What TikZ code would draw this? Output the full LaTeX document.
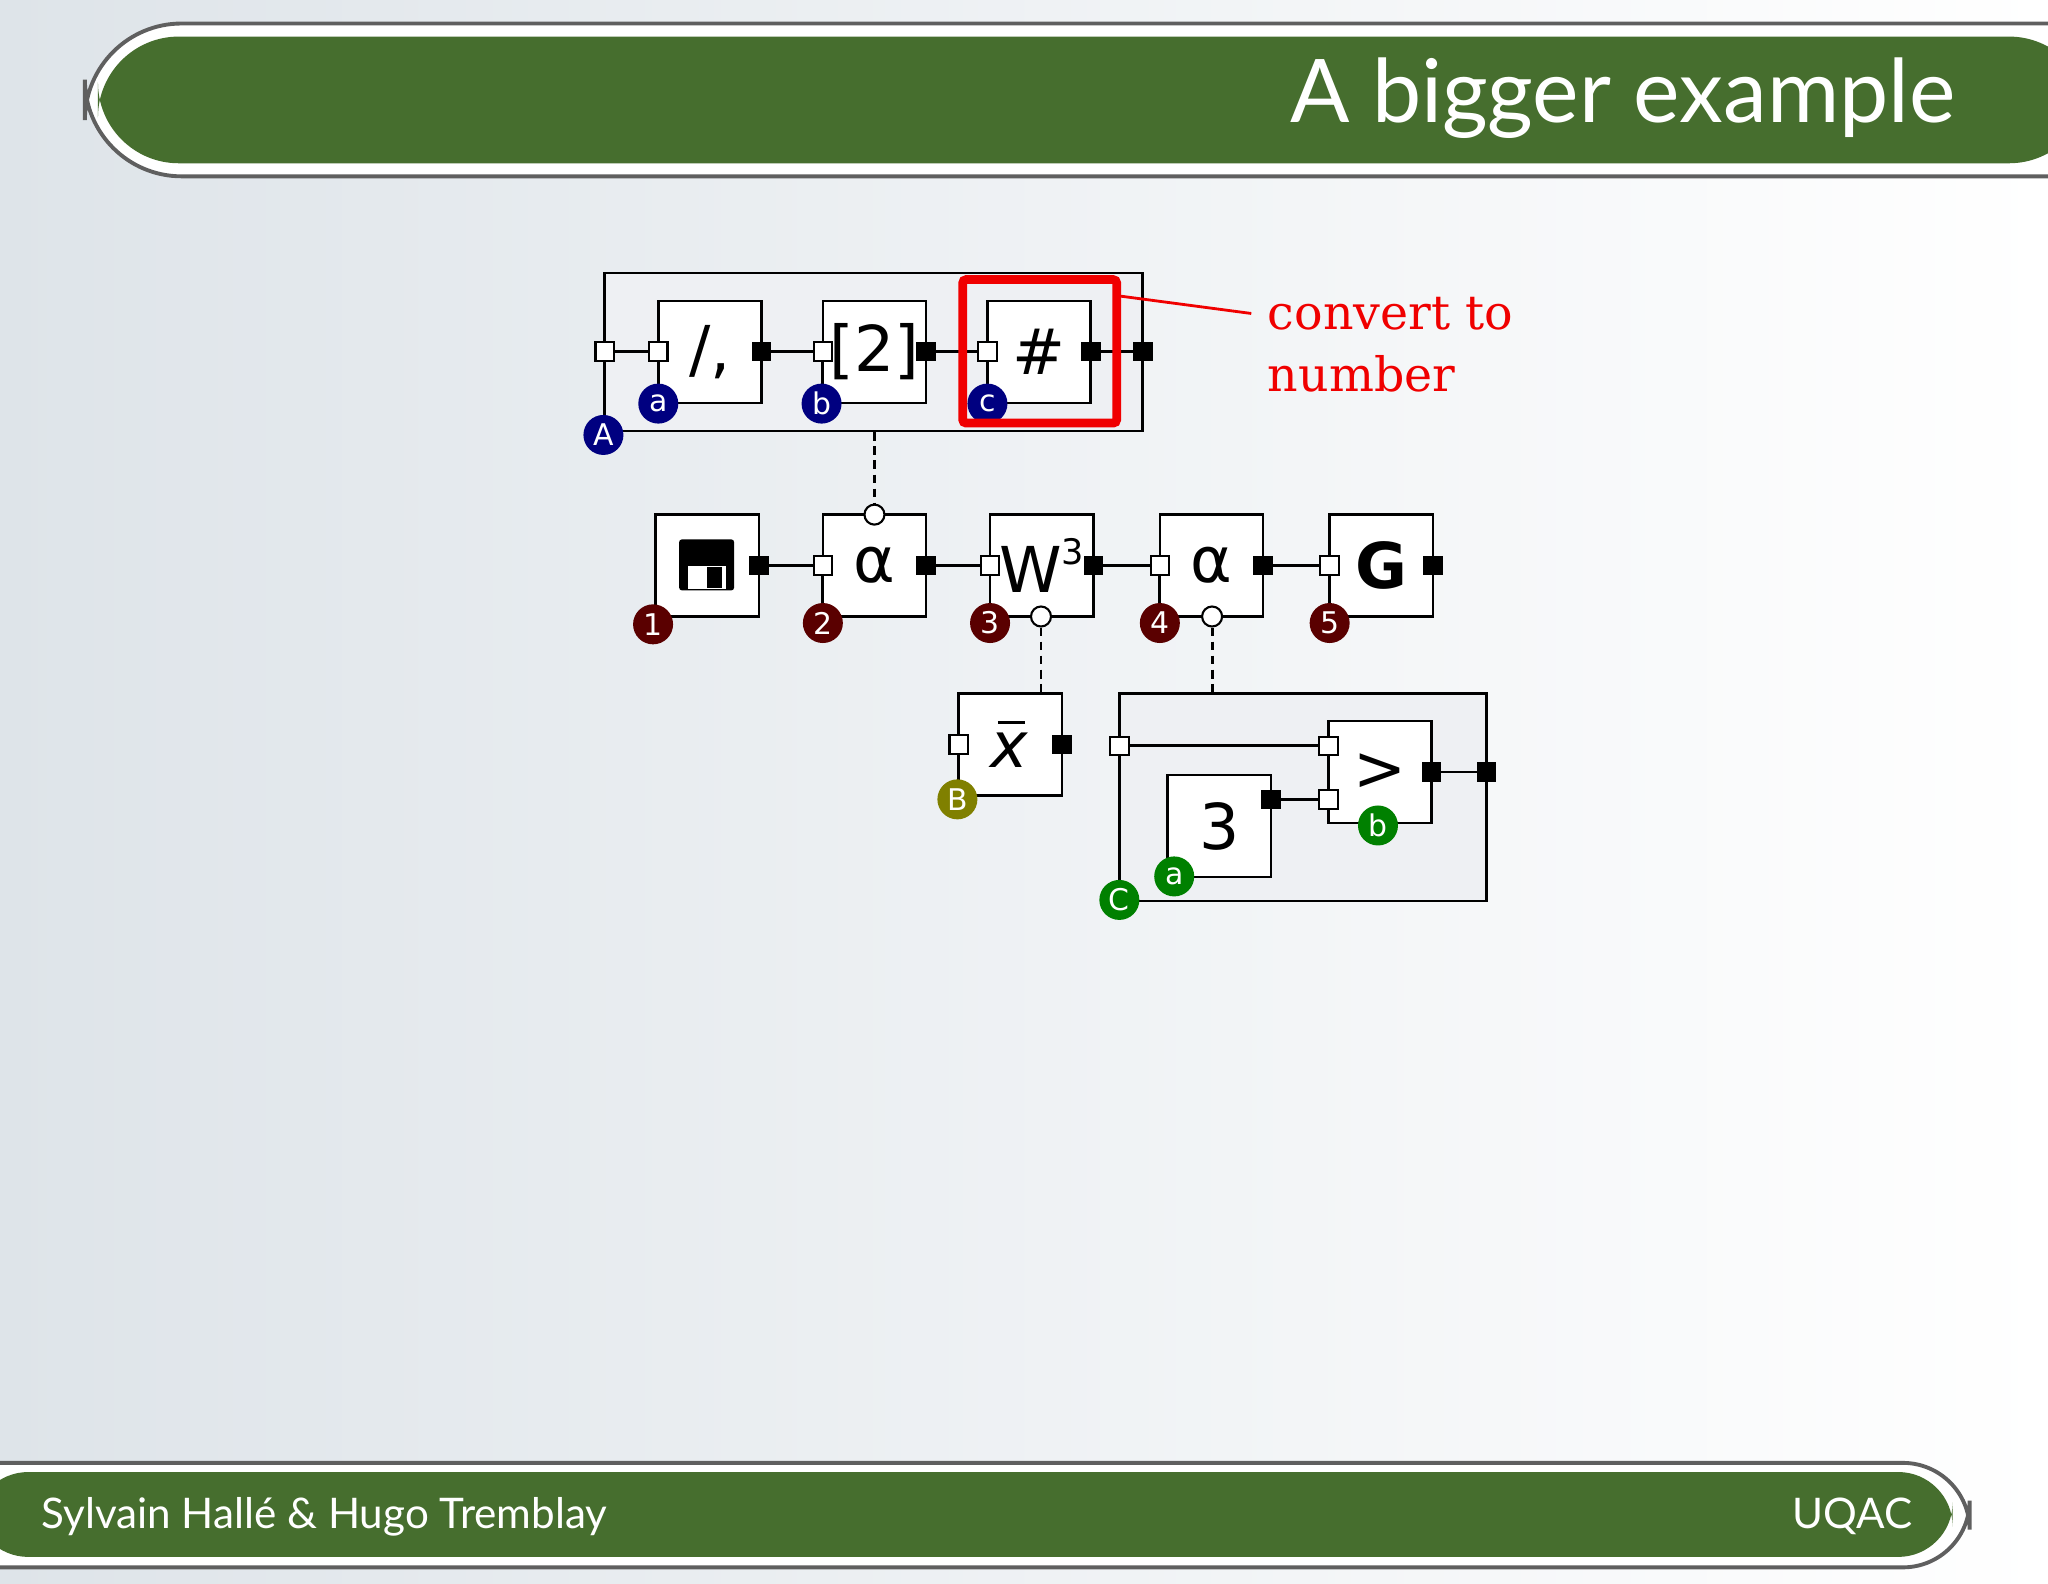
\documentclass[tikz,border=0pt]{standalone}
\usepackage{fontspec}
\setmainfont{DejaVu Sans}
\newfontfamily\serifred{DejaVu Serif}
\newfontfamily\titlefont{Lato}
\definecolor{hgreen}{RGB}{70,110,46}
\definecolor{lblue}{RGB}{0,0,128}
\definecolor{lmaroon}{RGB}{90,0,0}
\definecolor{lolive}{RGB}{128,128,0}
\definecolor{lgreen}{RGB}{0,128,0}
\definecolor{outerfill}{RGB}{238,240,243}
\definecolor{hred}{RGB}{240,0,0}
\definecolor{hgray}{RGB}{95,95,95}
\definecolor{bgleft}{RGB}{222,228,233}
\tikzset{
  x=0.026122cm,y=-0.026122cm,
  proc/.style={draw=black,line width=1.5pt,fill=white,minimum width=2.064cm,minimum height=2.04cm,inner sep=0pt,font=\fontsize{36}{36}\selectfont},
  outer/.style={draw=black,line width=1.5pt,fill=outerfill,inner sep=0pt},
  inport/.style={draw=black,line width=1.2pt,fill=white,minimum size=0.37cm,inner sep=0pt},
  outport/.style={draw=black,fill=black,minimum size=0.37cm,inner sep=0pt},
  ctx/.style={circle,draw=black,line width=1.2pt,fill=white,minimum size=0.4cm,inner sep=0pt},
  lbl/.style={circle,minimum size=0.8cm,inner sep=0pt,text=white,font=\fontsize{17}{17}\selectfont},
  pipe/.style={line width=1.6pt},
  dpipe/.style={line width=1.6pt,dash pattern=on 5pt off 3pt},
}
\begin{document}
\begin{tikzpicture}
\useasboundingbox (0,0) rectangle (1568,1212);
\shade[left color=bgleft,right color=white] (0,0) rectangle (1568,1212);
% header
\draw[draw=hgray,line width=2.2pt,fill=white,rounded corners=55] (1600,18) -- (65,18) -- (65,135) -- (1600,135);
\fill[hgreen,rounded corners=46] (1600,28) -- (75,28) -- (75,125) -- (1600,125) -- cycle;
\node[anchor=east,text=white,font=\titlefont\fontsize{50}{50}\selectfont] (title) at (1502,75) {A bigger example};
% footer
\draw[draw=hgray,line width=2.2pt,fill=white,rounded corners=38] (-20,1120) -- (1508,1120) -- (1508,1200) -- (-20,1200);
\fill[hgreen,rounded corners=31] (-20,1127) -- (1495,1127) -- (1495,1192) -- (-20,1192) -- cycle;
\node[anchor=west,text=white,font=\titlefont\fontsize{24}{24}\selectfont] (authors) at (27,1161) {Sylvain Hallé \& Hugo Tremblay};
\node[anchor=east,text=white,font=\titlefont\fontsize{24}{24}\selectfont] (uqac) at (1469,1161) {UQAC};

% outer A
\node[outer,minimum width=10.76cm,minimum height=3.16cm] (A) at (669,269.5) {};
\node[proc] (p1) at (543.5,269.5) {/,};
\node[proc] (p2) at (669.5,269.5) {[2]};
\node[proc] (p3) at (795.5,269.5) {\#};
\node[inport] (Ain) at (463,269) {};
\node[outport] (Aout) at (875,269) {};
\node[inport] (p1i) at (504,269) {};
\node[outport] (p1o) at (583,269) {};
\node[inport] (p2i) at (630,269) {};
\node[outport] (p2o) at (709,269) {};
\node[inport] (p3i) at (756,269) {};
\node[outport] (p3o) at (835,269) {};
\draw[pipe] (Ain) -- (p1i); \draw[pipe] (p1o) -- (p2i); \draw[pipe] (p2o) -- (p3i); \draw[pipe] (p3o) -- (Aout);
\draw[pipe] (Ain) -- (463,333); \draw[pipe] (p1i) -- (504,309); \draw[pipe] (p2i) -- (630,309); \draw[pipe] (p3i) -- (756,309);
\node[lbl,fill=lblue] (lA) at (462,333) {A};
\node[lbl,fill=lblue] (la) at (504,309) {a};
\node[lbl,fill=lblue] (lb) at (629,309) {b};
\node[lbl,fill=lblue] (lc) at (756,309) {c};
% red highlight
\node[draw=hred,line width=5pt,rounded corners=2pt,minimum width=3.08cm,minimum height=2.87cm,inner sep=0pt] (red) at (796,269) {};
\coordinate (re) at (958,240);
\draw[hred,line width=1.6pt] ([yshift=-0.42cm]red.north east) -- (re);
\node[anchor=west,align=left,text=hred,font=\serifred\fontsize{27}{35}\selectfont] (conv) at (966,264) {convert to\\number};

% row 2
\node[proc] (s1) at (541.5,433) {};
\node[proc] (a1) at (669.5,433) {α};
\node[proc] (w) at (797.5,433) {W\raisebox{0.45em}{\fontsize{20}{20}\selectfont 3}};
\node[proc] (a2) at (927.5,433) {α};
\node[proc] (g) at (1057.5,433) {\bfseries G};
% floppy
\fill[black,rounded corners=1.5pt] (520,413) rectangle (562,452);
\fill[white] (527,433) rectangle (556,451);
\fill[black] (541,434) rectangle (553,450);
\node[outport] (s1o) at (581,433) {};
\node[inport] (a1i) at (630,433) {};
\node[outport] (a1o) at (709,433) {};
\node[inport] (wi) at (758,433) {};
\node[outport] (wo) at (837,433) {};
\node[inport] (a2i) at (888,433) {};
\node[outport] (a2o) at (967,433) {};
\node[inport] (gi) at (1018,433) {};
\node[outport] (go) at (1097,433) {};
\draw[pipe] (s1o) -- (a1i); \draw[pipe] (a1o) -- (wi); \draw[pipe] (wo) -- (a2i); \draw[pipe] (a2o) -- (gi);
\draw[pipe] (a1i) -- (630,472); \draw[pipe] (wi) -- (758,472); \draw[pipe] (a2i) -- (888,472); \draw[pipe] (gi) -- (1018,472);
\node[ctx] (a1c) at (669.5,394) {};
\node[ctx] (wc) at (797,472) {};
\node[ctx] (a2c) at (928,472) {};
\draw[dpipe] (A.south -| a1c) -- (a1c);
\node[lbl,fill=lmaroon] (l1) at (500,478) {1};
\node[lbl,fill=lmaroon] (l2) at (630,477) {2};
\node[lbl,fill=lmaroon] (l3) at (758,477) {3};
\node[lbl,fill=lmaroon] (l4) at (888,477) {4};
\node[lbl,fill=lmaroon] (l5) at (1018,477) {5};

% xbar
\node[proc] (xb) at (773.5,570) {};
\node[font=\fontsize{36}{36}\selectfont\itshape] (xt) at (773,574) {x};
\draw[line width=1.7pt] (764,553) -- (785,553);
\node[inport] (xbi) at (734,570) {};
\node[outport] (xbo) at (813,570) {};
\draw[pipe] (xbi) -- (734,612);
\node[lbl,fill=lolive] (lB) at (733,612) {B};
\draw[dpipe] (wc) -- (xb.north -| wc);

% C
\node[outer,minimum width=7.34cm,minimum height=4.15cm] (C) at (997.5,610.5) {};
\node[proc] (gt) at (1056.5,591) {>};
\node[proc] (three) at (933.5,632.5) {3};
\node[inport] (Ci) at (857,571) {};
\node[outport] (Co) at (1138,591) {};
\node[inport] (gti1) at (1017,571) {};
\node[inport] (gti2) at (1017,612) {};
\node[outport] (gto) at (1096,591) {};
\node[outport] (threeo) at (973,612) {};
\draw[pipe] (Ci) -- (gti1); \draw[pipe] (threeo) -- (gti2); \draw[pipe] (gto) -- (Co);
\draw[pipe] (Ci) -- (857,689);
\draw[dpipe] (a2c) -- (C.north -| a2c);
\node[lbl,fill=lgreen] (lCc) at (857,689) {C};
\node[lbl,fill=lgreen] (la2) at (899,671) {a};
\node[lbl,fill=lgreen] (lb2) at (1055,632) {b};
\end{tikzpicture}
\end{document}
